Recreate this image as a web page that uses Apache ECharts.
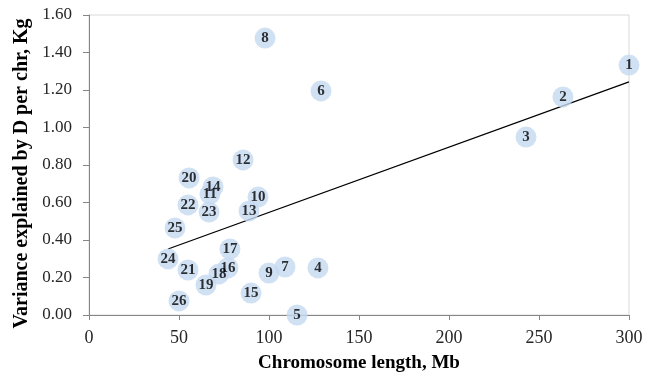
<!DOCTYPE html>
<html><head><meta charset="utf-8">
<script src="https://cdn.jsdelivr.net/npm/echarts@6/dist/echarts.min.js"></script>
<style>html,body{margin:0;padding:0;background:#fff}#c{width:657px;height:373px}</style>
</head><body><div id="c"></div>
<script>
const chrNames = ['1','2','3','4','5','6','7','8','9','10','11','12','13','14','15','16','17','18','19','20','21','22','23','24','25','26'];
const chrLength = [300,263.3,242.8,127.2,115.6,128.9,108.9,97.8,100,93.9,67.2,85.6,88.9,68.9,90,77.2,78.3,72.2,65,55.6,55,55,66.7,43.9,47.8,50];
const variance = [1.333,1.163,0.949,0.251,0.0,1.195,0.256,1.477,0.224,0.629,0.645,0.827,0.555,0.683,0.117,0.251,0.352,0.219,0.16,0.731,0.24,0.587,0.549,0.299,0.464,0.075];
const trendX = [43.9, 300];
const trendY = [0.352, 1.243];
const xTicks = [0,50,100,150,200,250,300];
const yTicks = [0,0.2,0.4,0.6,0.8,1.0,1.2,1.4,1.6];

const font = '"Liberation Serif","Times New Roman",serif';
const chart = echarts.init(document.getElementById('c'));
chart.setOption({
  animation: false,
  grid: {left: 89, right: 28, top: 15, bottom: 58, show: true, borderColor: '#d9d9d9', borderWidth: 1,
         containLabel: false, outerBoundsMode: 'none'},
  xAxis: {
    type: 'value', min: 0, max: 300, interval: 50,
    name: 'Chromosome length, Mb', nameLocation: 'middle', nameGap: 39,
    nameTextStyle: {fontFamily: font, fontWeight: 'bold', fontSize: 19, color: '#000'},
    axisLine: {show: true, lineStyle: {color: '#868686'}},
    axisTick: {show: true, length: 5, lineStyle: {color: '#868686'}},
    axisLabel: {fontFamily: font, fontSize: 18, color: '#262626', margin: 14},
    splitLine: {show: false}
  },
  yAxis: {
    type: 'value', min: 0, max: 1.6, interval: 0.2,
    name: 'Variance explained by D per chr, Kg', nameLocation: 'middle', nameGap: 56,
    nameTextStyle: {fontFamily: font, fontWeight: 'bold', fontSize: 20, color: '#000', padding: [0, 17, 0, 0]},
    axisLine: {show: true, lineStyle: {color: '#868686'}},
    axisTick: {show: true, length: 6, lineStyle: {color: '#868686'}},
    axisLabel: {fontFamily: font, fontSize: 17, color: '#262626', margin: 17, formatter: v => v.toFixed(2)},
    splitLine: {show: false}
  },
  series: [
    {
      type: 'line', data: trendX.map((x,i)=>[x,trendY[i]]), symbol: 'none',
      lineStyle: {color: '#000', width: 1.3}, z: 1, silent: true
    },
    {
      type: 'scatter', symbol: 'circle', symbolSize: 21,
      itemStyle: {color: '#c6d9f1'}, z: 2,
      data: chrLength.map((x,i)=>({value:[x, variance[i]], name: chrNames[i]})),
      label: {show: true, position: 'inside', formatter: p => p.name,
        fontFamily: font, fontWeight: 'bold', fontSize: 15, color: '#000'}
    }
  ]
});
</script></body></html>
